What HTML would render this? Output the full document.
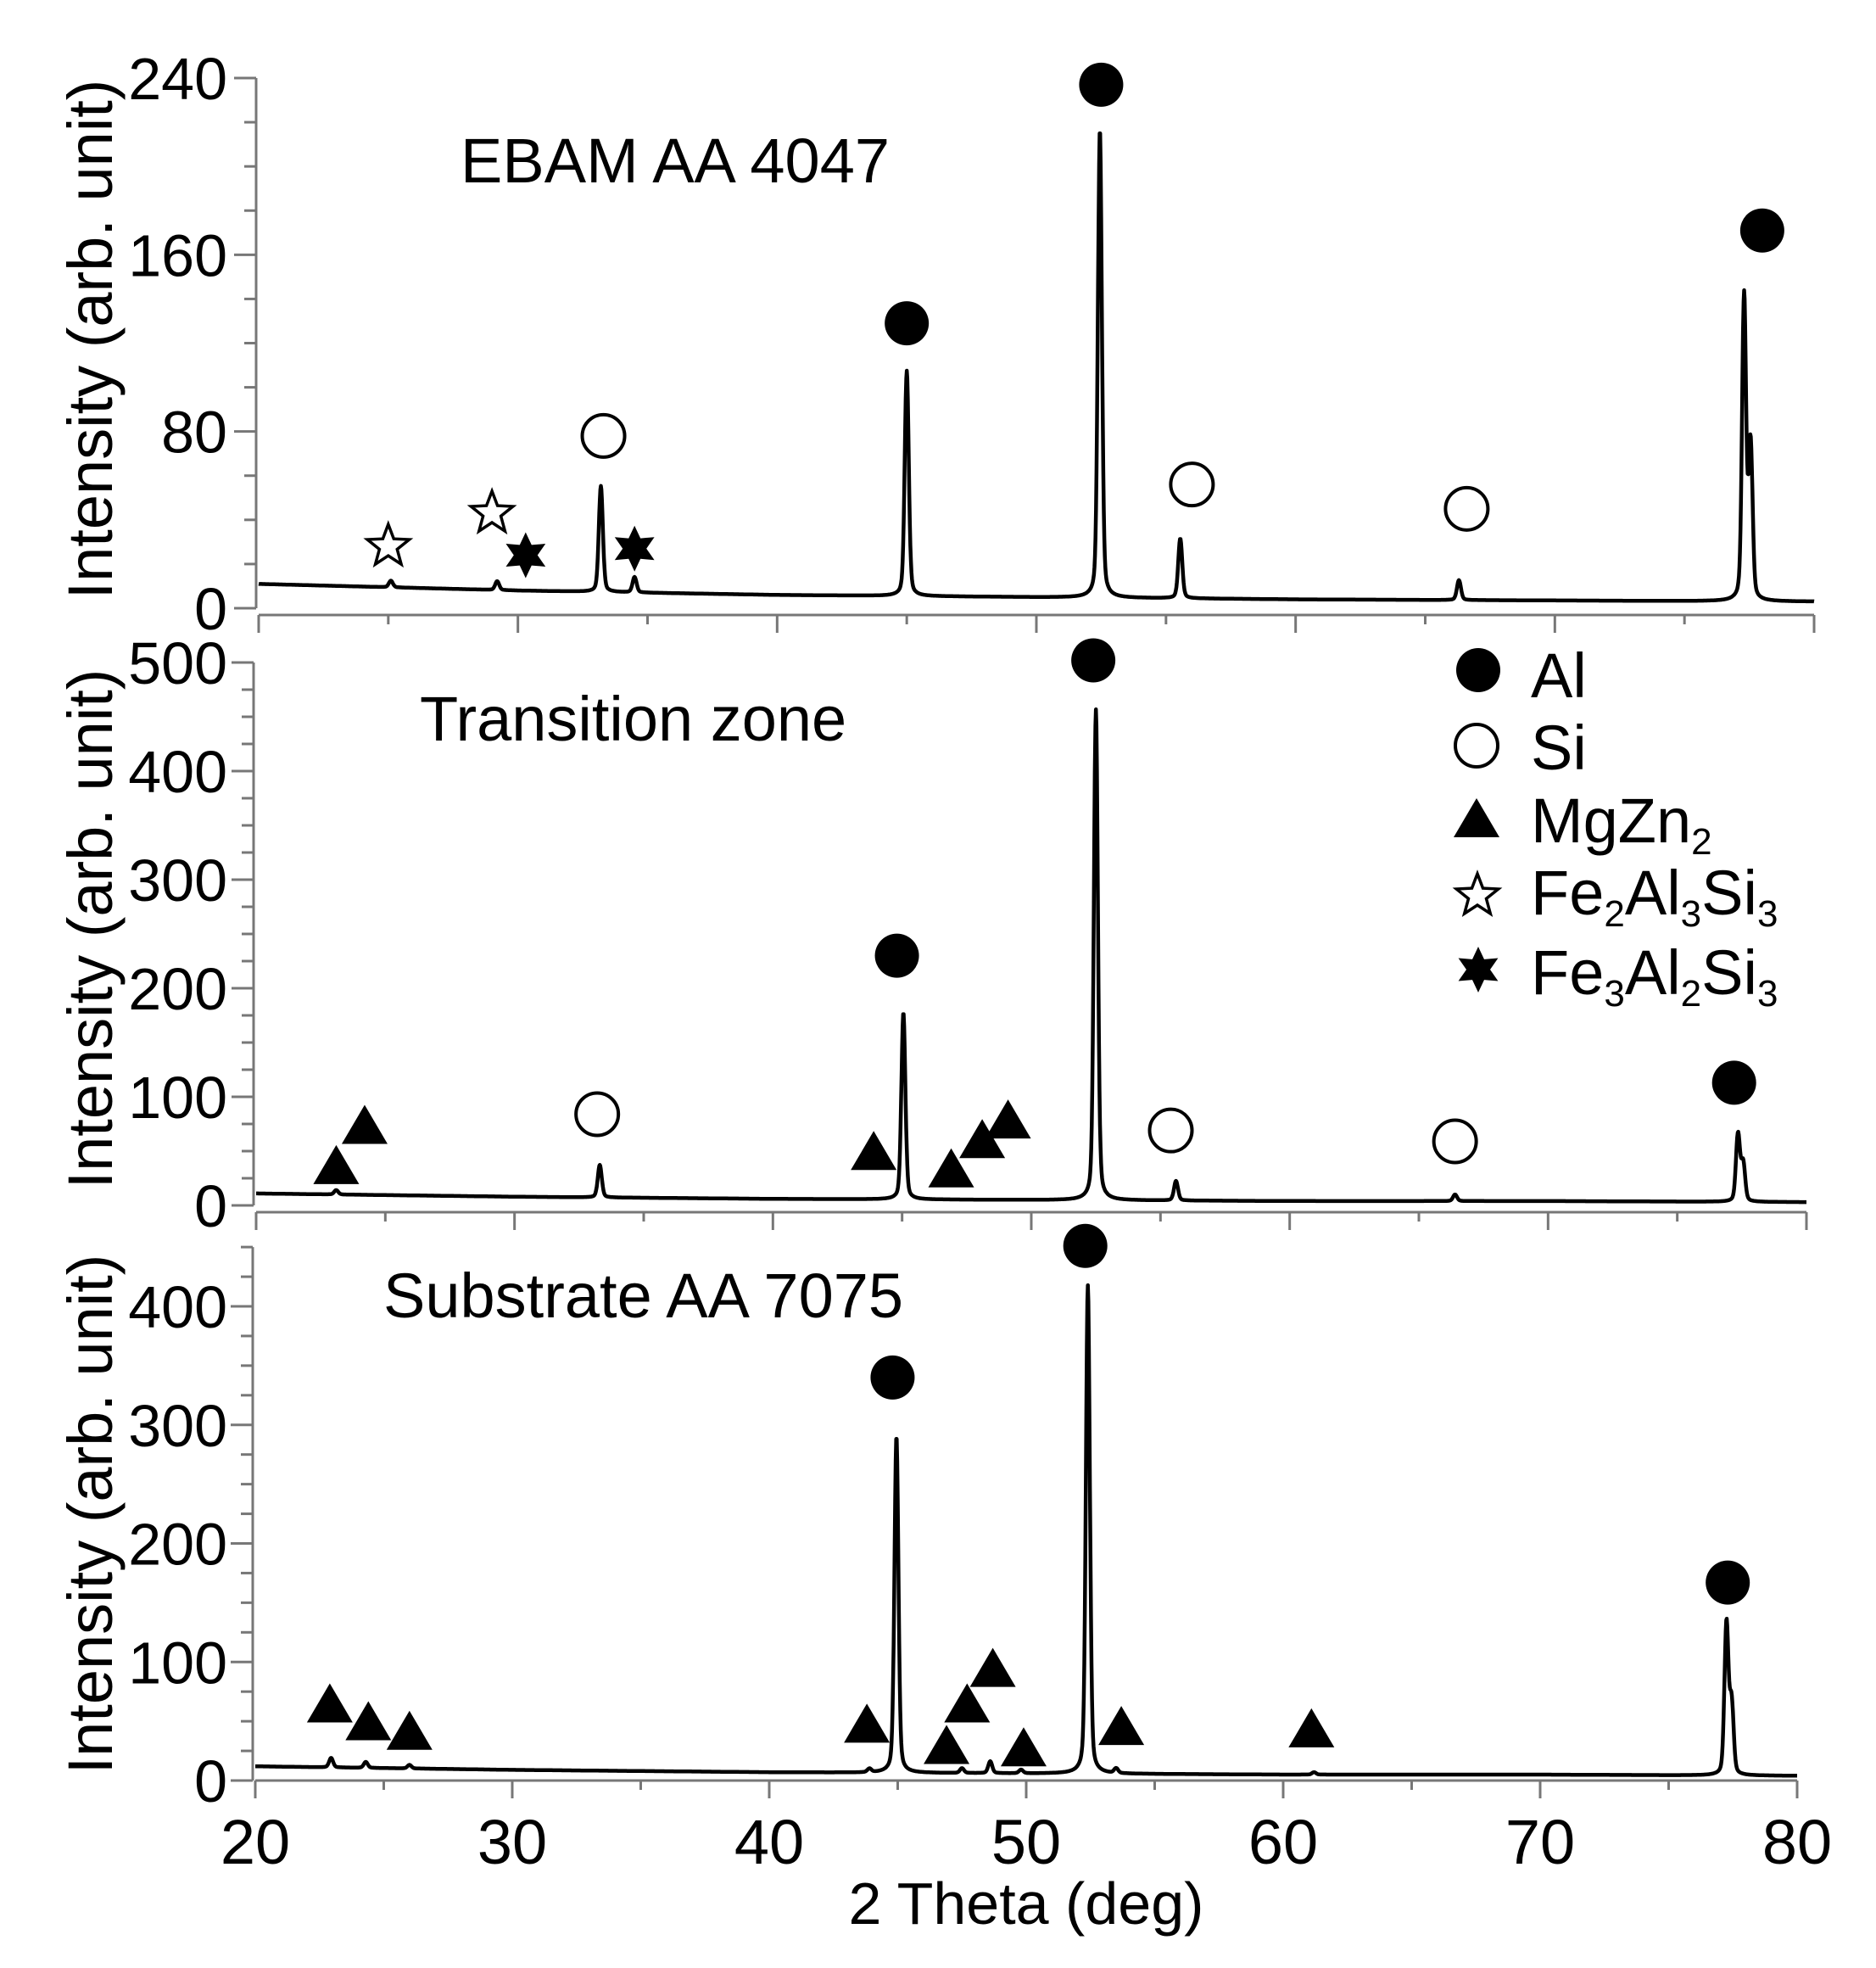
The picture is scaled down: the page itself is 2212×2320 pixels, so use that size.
<!DOCTYPE html>
<html><head><meta charset="utf-8">
<style>
html,body{margin:0;padding:0;background:#fff;}
svg{display:block;font-family:"Liberation Sans",Arial,sans-serif;}
</style></head>
<body>
<svg id="chart" width="2212" height="2320" viewBox="0 0 2212 2320"></svg>
<script>
// ---------- DATA ----------
// EBAM AA 4047 panel
const topPeakPos = [25.1, 29.2, 33.2, 34.5, 45.0, 52.45, 55.55, 66.3, 77.3, 77.55];
const topPeakHt  = [3, 4, 48, 7, 102, 212, 27, 9, 138, 70];
const topBgX = [20, 30, 40, 50, 60, 70, 80];
const topBgY = [11, 8, 6, 5, 4, 3.5, 3];
// Transition zone panel
const midPeakPos = [23.1, 33.3, 45.05, 52.5, 55.6, 66.4, 77.35, 77.55];
const midPeakHt  = [4, 30, 172, 452, 18, 6, 62, 35];
const midBgX = [20, 30, 40, 50, 60, 70, 80];
const midBgY = [11, 8, 6, 5, 4, 4, 3];
// Substrate AA 7075 panel
const botPeakPos = [22.95, 24.3, 26.0, 43.9, 47.5, 48.6, 49.8, 52.4, 53.5, 61.2, 77.25, 77.45];
const botPeakHt  = [8, 5, 3, 3, 4, 10, 3, 412, 4, 2, 128, 60];
const botBgX = [20, 30, 40, 50, 60, 70, 80];
const botBgY = [12, 9, 7, 6, 5, 5, 4];
const botPeak45 = [44.95, 284];
// marker annotations [deg, value]
const topAl = [[45.0,129],[52.5,237],[78.0,171]];
const topSi = [[33.3,78],[56.0,56],[66.6,45]];
const topStarOpen = [[25.0,28],[29.0,43]];
const topStarFill = [[30.3,24],[34.5,27]];
const midAl = [[52.4,502],[44.8,230],[77.2,113]];
const midSi = [[33.2,84],[55.4,69],[66.4,59]];
const midTri = [[23.1,36],[24.2,73],[43.9,49],[46.9,33],[48.1,60],[49.1,78]];
const botAl = [[52.3,451],[44.8,340],[77.3,167]];
const botTri = [[22.9,64],[24.4,49],[26.0,41],[43.8,47],[46.9,29],[47.7,64],[48.7,94],[49.9,27],[53.7,45],[61.1,43]];
const topYTicks = ["0","80","160","240"];
const midYTicks = ["0","100","200","300","400","500"];
const botYTicks = ["0","100","200","300","400"];
const xTicks = ["20","30","40","50","60","70","80"];

// ---------- helpers ----------
const NS = "http://www.w3.org/2000/svg";
const svg = document.getElementById('chart');
function mk(tag, attrs, parent){const e=document.createElementNS(NS,tag);for(const k in attrs)e.setAttribute(k,attrs[k]);(parent||svg).appendChild(e);return e;}
function interp(xs, ys, x){for(let i=0;i<xs.length-1;i++){if(x<=xs[i+1]){const t=(x-xs[i])/(xs[i+1]-xs[i]);return ys[i]+t*(ys[i+1]-ys[i]);}}return ys[ys.length-1];}

const panels = [
 {key:'top', x0:305, x1:2139, y0:717, pxPerUnit:625/240, ymax:240, major:80, minor:20, axisY:725, ticks:topYTicks,
  pos:topPeakPos, ht:topPeakHt, bgX:topBgX, bgY:topBgY, label:'EBAM AA 4047', lx:543, ly:215, ylabelY:400},
 {key:'mid', x0:302, x1:2130, y0:1421, pxPerUnit:640/500, ymax:500, major:100, minor:25, axisY:1429, ticks:midYTicks,
  pos:midPeakPos, ht:midPeakHt, bgX:midBgX, bgY:midBgY, label:'Transition zone', lx:495, ly:873, ylabelY:1095},
 {key:'bot', x0:301, x1:2119, y0:2099, pxPerUnit:1.3975, ymax:450, major:100, minor:25, axisY:2099, ticks:botYTicks,
  pos:botPeakPos.concat([botPeak45[0]]), ht:botPeakHt.concat([botPeak45[1]]), bgX:botBgX, bgY:botBgY, label:'Substrate AA 7075', lx:452, ly:1553, ylabelY:1785}
];

panels.forEach(p=>{
  const X = d => p.x0 + (d-20)/60*(p.x1-p.x0);
  const Y = v => p.y0 - v*p.pxPerUnit;
  p.X=X; p.Y=Y;
  const g = mk('g',{});
  
  
  const ya = mk('line',{x1:p.x0-3,x2:p.x0-3,y1:Y(p.ymax),y2:p.y0,stroke:'#777','stroke-width':3},g);
  
  
  for(let v=0; v<=p.ymax+0.01; v+=p.minor){
    const isMaj = Math.abs(v/p.major-Math.round(v/p.major))<1e-6;
    mk('line',{x1:p.x0-3-(isMaj?26:14),x2:p.x0-3,y1:Y(v),y2:Y(v),stroke:'#777','stroke-width':3},g);
  }
  p.ticks.forEach((t,i)=>{
    const v = i*p.major;
    const tx = mk('text',{x:268,y:Y(v)+25,'text-anchor':'end','font-size':70},g);
    tx.textContent = t;
    
    
  });
  const xa = mk('line',{x1:p.x0,x2:p.x1,y1:p.axisY,y2:p.axisY,stroke:'#777','stroke-width':3},g);
  
  
  for(let d=20; d<=80; d+=5){
    const isMaj = d%10===0;
    mk('line',{x1:X(d),x2:X(d),y1:p.axisY,y2:p.axisY+(isMaj?21:11),stroke:'#777','stroke-width':3},g);
  }
  const yl = mk('text',{x:0,y:0,'text-anchor':'middle','font-size':74,transform:`translate(132,${p.ylabelY}) rotate(-90)`},g);
  yl.textContent = 'Intensity (arb. unit)';
  
  
  const pl = mk('text',{x:p.lx,y:p.ly,'font-size':74},g);
  pl.textContent = p.label;
  
  
  let d='';
  for(let i=0;i<=3000;i++){
    const x = 20 + i*0.02;
    let y = interp(p.bgX,p.bgY,x);
    for(let k=0;k<p.pos.length;k++){
      const dx = x-p.pos[k];
      y += p.ht[k]*(0.8*Math.exp(-dx*dx/(2*0.075*0.075)) + 0.2/(1+dx*dx/(0.12*0.12)));
    }
    d += (i?'L':'M')+X(x).toFixed(1)+','+Y(y).toFixed(1);
  }
  const path = mk('path',{d:d,fill:'none',stroke:'#000','stroke-width':4.5,'stroke-linejoin':'round'},g);
  
  
});

const bp = panels[2];
xTicks.forEach((t,i)=>{
  const tx = mk('text',{x:bp.X(20+i*10),y:2197,'text-anchor':'middle','font-size':74});
  tx.textContent = t;
  
  
});
const xl = mk('text',{x:1210,y:2268,'text-anchor':'middle','font-size':70});
xl.textContent = '2 Theta (deg)';



function circle(cx,cy,filled,name){const e=mk('circle',{cx:cx,cy:cy,r:filled?26:25,fill:filled?'#000':'#fff',stroke:'#000','stroke-width':filled?0:4});
  
  }
function tri(cx,cy,name){const e=mk('polygon',{points:`${cx},${cy-25} ${cx+27},${cy+21} ${cx-27},${cy+21}`,fill:'#000'});
  
  }
function star5(cx,cy,name){let pts=[];for(let i=0;i<10;i++){const r=i%2?11:26;const a=-Math.PI/2+i*Math.PI/5;pts.push((cx+r*Math.cos(a)).toFixed(1)+','+(cy+r*Math.sin(a)).toFixed(1));}
  const e=mk('polygon',{points:pts.join(' '),fill:'#fff',stroke:'#000','stroke-width':3.5});
  
  }
function star6(cx,cy,name){let pts=[];for(let i=0;i<12;i++){const r=i%2?14:27;const a=-Math.PI/2+i*Math.PI/6;pts.push((cx+r*Math.cos(a)).toFixed(1)+','+(cy+r*Math.sin(a)).toFixed(1));}
  const e=mk('polygon',{points:pts.join(' '),fill:'#000'});
  
  }

const P=panels;
topAl.forEach(m=>circle(P[0].X(m[0]),P[0].Y(m[1]),true,'al-marker'));
topSi.forEach(m=>circle(P[0].X(m[0]),P[0].Y(m[1]),false,'si-marker'));
topStarOpen.forEach(m=>star5(P[0].X(m[0]),P[0].Y(m[1]),'fe2al3si3-marker'));
topStarFill.forEach(m=>star6(P[0].X(m[0]),P[0].Y(m[1]),'fe3al2si3-marker'));
midAl.forEach(m=>circle(P[1].X(m[0]),P[1].Y(m[1]),true,'al-marker'));
midSi.forEach(m=>circle(P[1].X(m[0]),P[1].Y(m[1]),false,'si-marker'));
midTri.forEach(m=>tri(P[1].X(m[0]),P[1].Y(m[1]),'mgzn2-marker'));
botAl.forEach(m=>circle(P[2].X(m[0]),P[2].Y(m[1]),true,'al-marker'));
botTri.forEach(m=>tri(P[2].X(m[0]),P[2].Y(m[1]),'mgzn2-marker'));

circle(1743,790,true,'legend-al-marker');
circle(1741,879,false,'legend-si-marker');
tri(1741,966,'legend-mgzn2-marker');
star5(1742,1056,'legend-fe2al3si3-marker');
star6(1743,1143,'legend-fe3al2si3-marker');
</script>
<div style="position:absolute;left:0;top:0;width:2212px;height:2320px;pointer-events:none;">
<svg width="2212" height="2320" style="font-family:'Liberation Sans',Arial,sans-serif;">
 <text x="1805" y="822" font-size="74">Al</text>
 <text x="1805" y="907" font-size="74">Si</text>
 <text x="1805" y="993" font-size="74">MgZn<tspan font-size="44" dy="14">2</tspan></text>
 <text x="1805" y="1078" font-size="74">Fe<tspan font-size="44" dy="14">2</tspan><tspan dy="-14">Al</tspan><tspan font-size="44" dy="14">3</tspan><tspan dy="-14">Si</tspan><tspan font-size="44" dy="14">3</tspan></text>
 <text x="1805" y="1172" font-size="74">Fe<tspan font-size="44" dy="14">3</tspan><tspan dy="-14">Al</tspan><tspan font-size="44" dy="14">2</tspan><tspan dy="-14">Si</tspan><tspan font-size="44" dy="14">3</tspan></text>
</svg>
</div>
</body></html>
